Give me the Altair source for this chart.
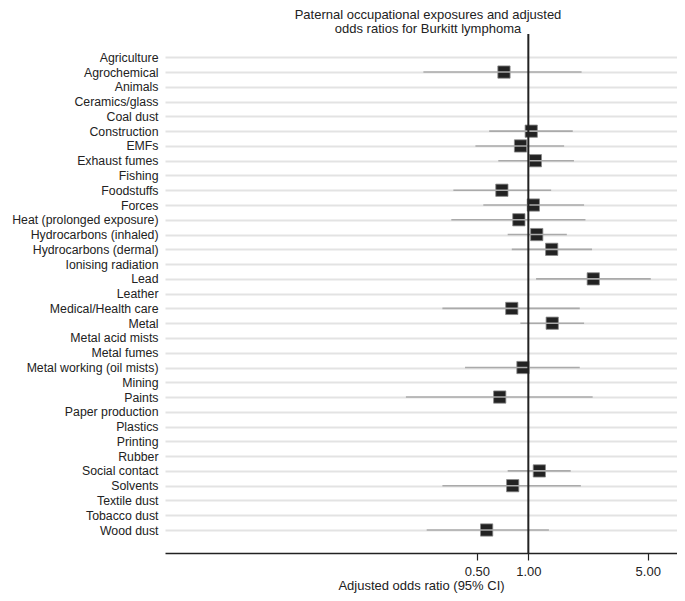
import altair as alt
import pandas as pd

categories = ["Agriculture", "Agrochemical", "Animals", "Ceramics/glass", "Coal dust",
              "Construction", "EMFs", "Exhaust fumes", "Fishing", "Foodstuffs", "Forces",
              "Heat (prolonged exposure)", "Hydrocarbons (inhaled)", "Hydrocarbons (dermal)",
              "Ionising radiation", "Lead", "Leather", "Medical/Health care", "Metal",
              "Metal acid mists", "Metal fumes", "Metal working (oil mists)", "Mining", "Paints",
              "Paper production", "Plastics", "Printing", "Rubber", "Social contact", "Solvents",
              "Textile dust", "Tobacco dust", "Wood dust"]
odds = [None, 0.72, None, None, None, 1.04, 0.90, 1.10, None, 0.70, 1.07, 0.88, 1.12, 1.37,
        None, 2.40, None, 0.80, 1.38, None, None, 0.93, None, 0.68, None, None, None, None,
        1.16, 0.81, None, None, 0.57]
lower = [None, 0.243, None, None, None, 0.59, 0.49, 0.667, None, 0.364, 0.545, 0.354, 0.757, 0.80,
         None, 1.11, None, 0.314, 0.898, None, None, 0.426, None, 0.192, None, None, None, None,
         0.757, 0.314, None, None, 0.254]
upper = [None, 2.05, None, None, None, 1.82, 1.62, 1.85, None, 1.36, 2.12, 2.16, 1.68, 2.36,
         None, 5.21, None, 2.0, 2.12, None, None, 2.0, None, 2.38, None, None, None, None,
         1.77, 2.03, None, None, 1.32]
tick_values = [0.5, 1.0, 5.0]

df = pd.DataFrame({"exposure": categories, "or": odds, "lo": lower, "hi": upper})
est = df.dropna()

FONT = "Liberation Sans"
TXT = "#222222"
x_scale = alt.Scale(type="log", domain=[0.00746, 7.42], nice=False, clamp=False)
y_scale = alt.Scale(type="point", padding=0, domain=categories, range=[23.3, 496])
y_enc = alt.Y("exposure:N", sort=categories, scale=y_scale,
              axis=alt.Axis(title=None, grid=True, gridColor="#e3e3e3", gridWidth=2,
                            domain=False, ticks=False, labelPadding=7, labelFontSize=12.3,
                            labelFont=FONT, labelColor=TXT))

grid = alt.Chart(df).mark_point(opacity=0).encode(
    y=y_enc,
    x=alt.X("or:Q", scale=x_scale,
            axis=alt.Axis(title="Adjusted odds ratio (95% CI)", values=tick_values, format=".2f",
                          grid=False, domainColor=TXT, domainWidth=1.5, tickColor=TXT,
                          tickSize=7, tickWidth=1.2, labelFontSize=13, labelFont=FONT,
                          labelColor=TXT, titleFontSize=13, titleFont=FONT,
                          titleFontWeight="normal", titleColor=TXT, titlePadding=1,
                          labelPadding=5)),
)

base = alt.Chart(est)
boxes = base.mark_square(size=150, color=TXT, fill=TXT, opacity=1,
                         stroke="#888888", strokeWidth=0.8).encode(
    y=alt.Y("exposure:N", sort=categories, scale=y_scale), x=alt.X("or:Q", scale=x_scale))
ci = base.mark_rule(color="#aaaaaa", strokeWidth=1.6).encode(
    y=alt.Y("exposure:N", sort=categories, scale=y_scale),
    x=alt.X("lo:Q", scale=x_scale), x2="hi:Q")
vline = alt.Chart(pd.DataFrame({"v": [1.0]})).mark_rule(color=TXT, strokeWidth=2).encode(
    x=alt.X("v:Q", scale=x_scale))

chart = alt.layer(grid, boxes, ci, vline).properties(
    width=512, height=519,
    autosize=alt.AutoSizeParams(type="none"),
    padding={"left": 157, "top": 26, "right": 0, "bottom": 40},
    title=alt.TitleParams(["Paternal occupational exposures and adjusted",
                           "odds ratios for Burkitt lymphoma"],
                          anchor="middle", frame="group", dx=7, fontSize=13,
                          fontWeight="normal", font=FONT, color=TXT, lineHeight=14,
                          offset=-3),
).configure_view(stroke=None)

chart.save("out.html", embed_options={"renderer": "svg", "actions": False})
